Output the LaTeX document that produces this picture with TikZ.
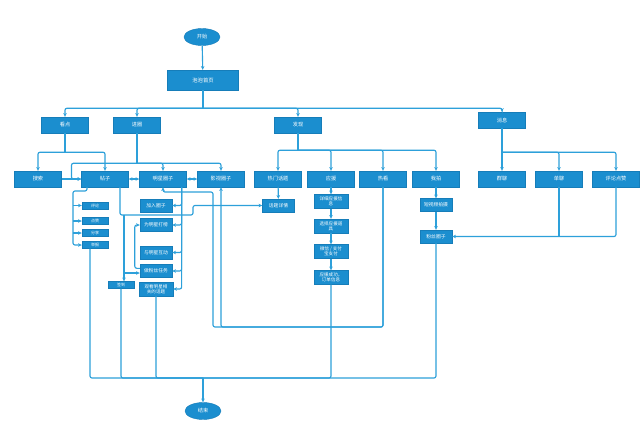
\documentclass[tikz,border=0pt]{standalone}
\usepackage{fontspec}
\newfontfamily\cjk{Noto Sans CJK SC}
\usetikzlibrary{arrows.meta,calc,shapes.geometric}
\definecolor{boxblue}{RGB}{27,142,207}
\definecolor{boxedge}{RGB}{22,125,185}
\definecolor{linecol}{RGB}{45,160,218}
\begin{document}
\begin{tikzpicture}[x=0.75pt,y=-0.75pt,
  base/.style={rectangle, fill=boxblue, draw=boxedge, line width=0.3pt, text=white, inner sep=0pt, align=center},
  bigbox/.style={base, minimum width=35.25pt, minimum height=12pt, font=\cjk\fontsize{3.9}{4.4}\selectfont},
  topbox/.style={base, minimum width=53.25pt, minimum height=15pt, font=\cjk\fontsize{4}{4.5}\selectfont},
  midbox/.style={base, minimum width=24pt, minimum height=9.75pt, font=\cjk\fontsize{3.6}{4.1}\selectfont},
  twobox/.style={base, minimum width=25.5pt, minimum height=10.5pt, font=\cjk\fontsize{3.4}{3.9}\selectfont},
  smallbox/.style={base, minimum width=19.5pt, minimum height=5.25pt, font=\cjk\fontsize{3}{3.2}\selectfont},
  term/.style={ellipse, fill=boxblue, draw=boxedge, line width=0.3pt, text=white, minimum width=27pt, minimum height=12.75pt, inner sep=0pt, font=\cjk\fontsize{3.9}{4.4}\selectfont},
  conn/.style={draw=linecol, line width=0.85pt, rounded corners=1.5pt},
  arr/.style={conn, -{Stealth[length=2.8pt,width=2.6pt]}},
  darr/.style={conn, {Stealth[length=2.8pt,width=2.6pt]}-{Stealth[length=2.8pt,width=2.6pt]}},
]
\fill[white] (0,0) rectangle (640,426);
\useasboundingbox (0,0) rectangle (640,426);

% nodes
\node[term] (start) at (202,37) {开始};
\node[topbox] (home) at (203,80) {泡泡首页};
\node[bigbox] (kandian) at (65,125) {看点};
\node[bigbox] (jinquan) at (137,125) {进圈};
\node[bigbox] (faxian) at (298,125) {发现};
\node[bigbox] (xiaoxi) at (502,120) {消息};

\node[bigbox] (sousuo) at (38,179) {搜索};
\node[bigbox] (tiezi) at (105,179) {帖子};
\node[bigbox] (mingxing) at (163,179) {明星圈子};
\node[bigbox] (yingshi) at (221,179) {影视圈子};
\node[bigbox] (remen) at (278,179) {热门话题};
\node[bigbox] (yingyuan) at (331,179) {应援};
\node[bigbox] (rekan) at (383,179) {热看};
\node[bigbox] (wopai) at (436,179) {我拍};
\node[bigbox] (qunliao) at (502,179) {群聊};
\node[bigbox] (danliao) at (559,179) {单聊};
\node[bigbox] (pldz) at (616,179) {评论点赞};

\node[smallbox] (pinglun) at (95,205.5) {评论};
\node[smallbox] (dianzan) at (95,221) {点赞};
\node[smallbox] (fenxiang) at (95,233) {分享};
\node[smallbox] (jubao) at (95,245) {举报};

\node[midbox] (jiaru) at (156,205.5) {加入圈子};
\node[midbox] (dabang) at (156,225) {为明星打榜};
\node[midbox] (hudong) at (156,252.5) {与明星互动};
\node[midbox] (renwu) at (156,271) {做粉丝任务};
\node[smallbox] (qiandao) at (121,285) {签到};
\node[twobox] (guankan) at (156,289) {观看明星相\\关的话题};

\node[midbox] (huati) at (278.5,205.5) {话题详情};
\node[twobox] (xiangxi) at (331,201.5) {详细应援信\\息};
\node[twobox] (xuanze) at (331,226) {选择应援道\\具};
\node[twobox] (zhifu) at (331,251.5) {微信 / 支付\\宝支付};
\node[twobox] (chenggong) at (331,277.5) {应援成功，\\订单信息};

\node[midbox] (duanshipin) at (436,205) {短视频拍摄};
\node[midbox] (fensi) at (436,236.5) {粉丝圈子};

\node[term] (end) at (203,411) {结束};

% top level
\draw[arr] (start) -- (home);
\draw[conn] (home.south) -- ++(0,18) coordinate (hj);
\draw[arr] (hj) -| (kandian.north);
\draw[arr] (hj) -| (jinquan.north);
\draw[arr] (hj) -| (faxian.north);
\draw[arr] (hj) -| (xiaoxi.north);

% kandian
\draw[conn] (kandian.south) -- ++(0,19) coordinate (kj);
\draw[arr] (kj) -| (sousuo.north);
\draw[arr] (kj) -| (tiezi.north);

% jinquan
\draw[conn] (jinquan.south) -- ++(0,30) coordinate (jj);
\coordinate (m1) at ($(sousuo.east)!0.5!(tiezi.west)$);
\draw[arr] (jj) -| (mingxing.north);
\draw[arr] (jj) -| (yingshi.north);
\draw[arr] (jj) -| (m1) -- (tiezi.west);
\draw[arr] (sousuo) -- (tiezi);
\draw[darr] (tiezi) -- (mingxing);
\draw[darr] (mingxing) -- (yingshi);

% faxian
\draw[conn] (faxian.south) -- ++(0,17) coordinate (fj);
\draw[arr] (fj) -| (remen.north);
\draw[arr] (fj) -| (yingyuan.north);
\draw[arr] (fj) -| (rekan.north);
\draw[arr] (fj) -| (wopai.north);

% xiaoxi
\draw[conn] (xiaoxi.south) -- ++(0,24) coordinate (xj);
\draw[arr] (xj) -- (qunliao.north);
\draw[arr] (xj) -| (danliao.north);
\draw[arr] (xj) -| (pldz.north);

% tiezi sub items
\coordinate (t1) at ([xshift=-13.5pt]tiezi.south);
\coordinate (tl) at (73,191);
\draw[arr] (t1) |- (tl) |- (jubao.west);
\draw[arr] (tl |- pinglun.west) -- (pinglun.west);
\draw[arr] (tl |- dianzan.west) -- (dianzan.west);
\draw[arr] (tl |- fenxiang.west) -- (fenxiang.west);

% tiezi -> topic detail, sign-in, fan task
\coordinate (ta) at ([xshift=11.25pt]tiezi.south);
\coordinate (aj) at (193,215);
\coordinate (ab) at (124,215);
\draw[arr] (ta) |- (aj) |- (huati.west);
\draw[arr] (ab) -- (ab |- qiandao.north);
\coordinate (rw) at ([yshift=-1.5pt]renwu.west);
\draw[arr] (ab |- rw) -- (rw);
\coordinate (rw2) at ([yshift=2pt]renwu.west);
\draw[arr] (rw2) -- ++(-5,0) |- (dabang.west);

% mingxing column
\coordinate (ms) at ([xshift=14pt]mingxing.south);
\draw[arr] (ms) |- (jiaru.east);
\draw[arr] (ms) |- (dabang.east);
\draw[arr] (ms) |- (hudong.east);
\draw[arr] (ms) |- (renwu.east);
\draw[arr] (ms) |- (guankan.east);

% topic
\draw[arr] (remen) -- (huati);

% yingyuan chain
\draw[arr] (yingyuan) -- (xiangxi);
\draw[arr] (xiangxi) -- (xuanze);
\draw[arr] (xuanze) -- (zhifu);
\draw[arr] (zhifu) -- (chenggong);

% wopai chain
\draw[arr] (wopai) -- (duanshipin);
\draw[arr] (duanshipin) -- (fensi);
\draw[arr] (pldz.south) |- (fensi.east);
\draw[conn] (danliao.south) -- (danliao.south |- fensi.east);

% rekan loop
\coordinate (lowA) at (0,327);
\coordinate (mjoin) at (213,192);
\draw[arr] (rekan.south) |- (yingshi.south |- lowA) -- (yingshi.south);
\draw[arr] (rekan.south) |- (mjoin |- lowA) |- (mingxing.south |- mjoin) -- (mingxing.south);

% to end
\coordinate (bot) at (203,378);
\draw[conn] ([xshift=-3.75pt]jubao.south) |- (bot);
\draw[conn] (qiandao.south) |- (bot);
\draw[conn] (guankan.south) |- (bot);
\draw[conn] (chenggong.south) |- (bot);
\draw[conn] (fensi.south) |- (bot);
\draw[arr] (bot) -- (end.north);
\end{tikzpicture}
\end{document}
